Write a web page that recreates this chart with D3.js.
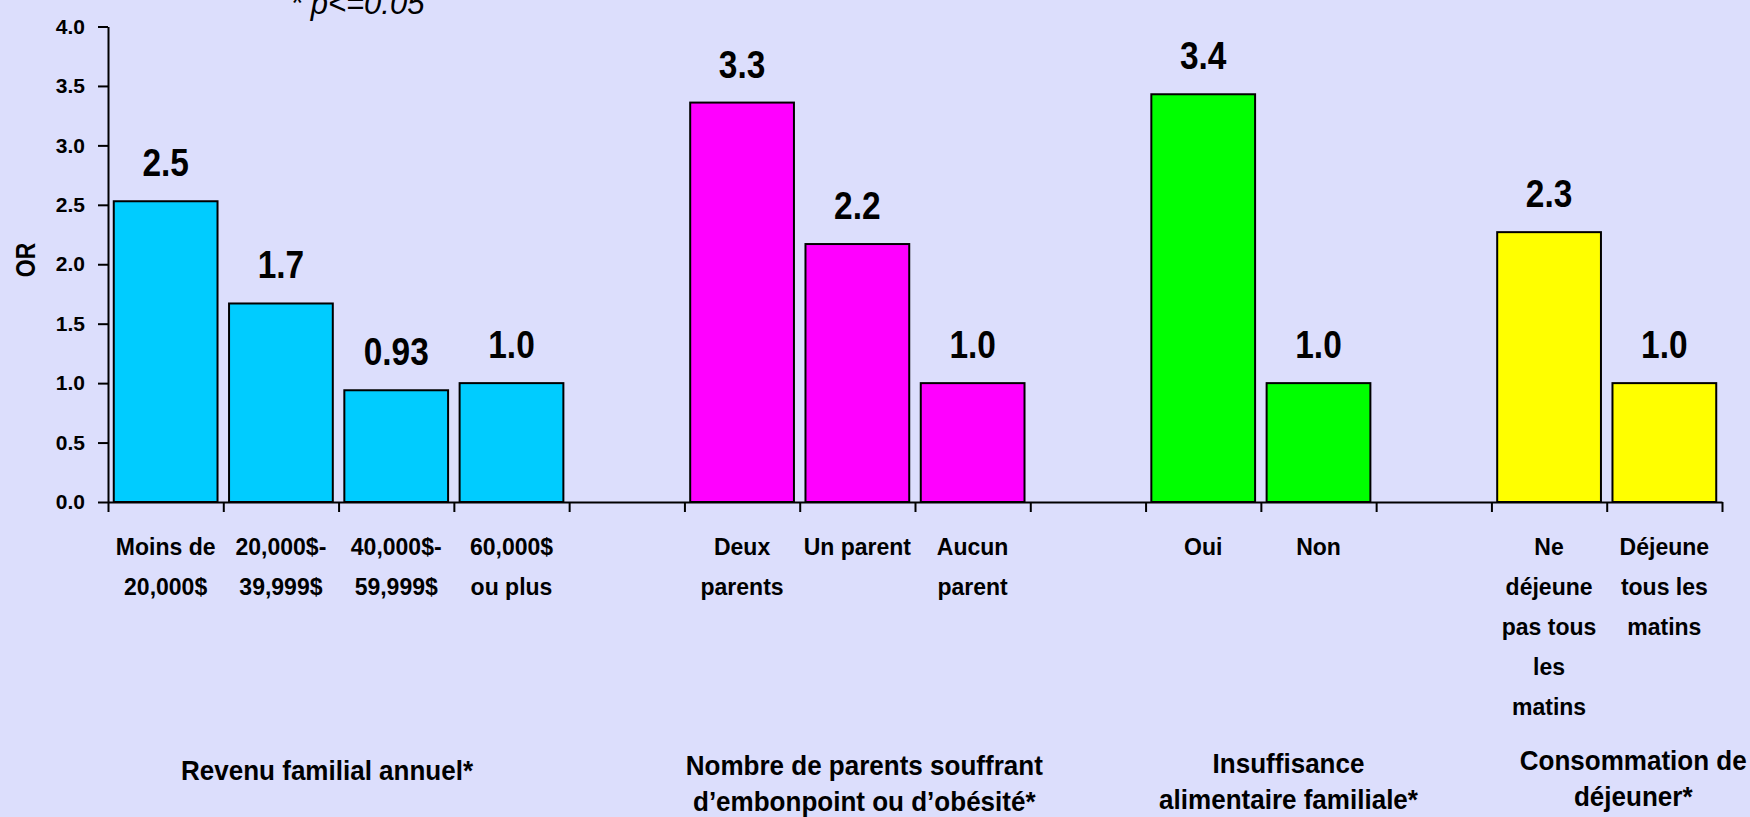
<!DOCTYPE html>
<html>
<head>
<meta charset="utf-8">
<script src="https://cdn.jsdelivr.net/npm/d3@7"></script>
<style>
    body { margin: 0; background: #dcdefc; }
    svg { display: block; }
</style>
</head>
<body>
<div id="chart-container"></div>
<script>
// Categories (each label split in lines), grouped by factor
var revenuCats = [["Moins de", "20,000$"], ["20,000$-", "39,999$"], ["40,000$-", "59,999$"], ["60,000$", "ou plus"]];
var parentsCats = [["Deux", "parents"], ["Un parent"], ["Aucun", "parent"]];
var insuffCats = [["Oui"], ["Non"]];
var dejeunerCats = [["Ne", "déjeune", "pas tous", "les", "matins"], ["Déjeune", "tous les", "matins"]];

// Odds ratios (bar heights) and the printed labels
var revenuValues = [2.53, 1.67, 0.94, 1.0];
var parentsValues = [3.36, 2.17, 1.0];
var insuffValues = [3.43, 1.0];
var dejeunerValues = [2.27, 1.0];

var revenuLabels = ["2.5", "1.7", "0.93", "1.0"];
var parentsLabels = ["3.3", "2.2", "1.0"];
var insuffLabels = ["3.4", "1.0"];
var dejeunerLabels = ["2.3", "1.0"];

// Group titles under the axis
var groupTitles = [
    ["Revenu familial annuel*"],
    ["Nombre de parents souffrant", "d’embonpoint ou d’obésité*"],
    ["Insuffisance", "alimentaire familiale*"],
    ["Consommation de", "déjeuner*"]
];

var yTicks = [0, 0.5, 1, 1.5, 2, 2.5, 3, 3.5, 4];

// Layout: band index where each group starts, and title anchor (band units / px)
var groupStart = [0, 5, 9, 12];
var groupColors = ["#00ccff", "#ff00ff", "#00ff00", "#ffff00"];
var titlePos = [{x: 1.90, y: 780}, {x: 6.56, y: 775}, {x: 10.24, y: 773}, {x: 13.23, y: 770}];
var nBands = 14;

var W = 1750, H = 817;
var font = "'Liberation Sans', Arial, sans-serif";

var svg = d3.select("#chart-container")
    .append("svg")
    .attr("width", W)
    .attr("height", H);

svg.append("rect")
    .attr("width", W)
    .attr("height", H)
    .attr("fill", "#dcdefc");

// Scales: x in band units (ticks at band edges), y for OR
var x = d3.scaleLinear().domain([0, nBands]).range([108, 1722]);
var step = x(1) - x(0);
var y = d3.scaleLinear().domain([0, 4]).range([502, 26.5]);

// Flatten groups into one list of bars
var allCats = [revenuCats, parentsCats, insuffCats, dejeunerCats];
var allValues = [revenuValues, parentsValues, insuffValues, dejeunerValues];
var allLabels = [revenuLabels, parentsLabels, insuffLabels, dejeunerLabels];
var bars = [];
allValues.forEach(function(vals, g) {
    vals.forEach(function(v, i) {
        bars.push({
            idx: groupStart[g] + i,
            value: v,
            label: allLabels[g][i],
            cat: allCats[g][i],
            color: groupColors[g]
        });
    });
});

// Bars
svg.selectAll("rect.bar")
    .data(bars)
    .enter()
    .append("rect")
    .attr("class", "bar")
    .attr("x", function(d) { return x(d.idx) + step * 0.05; })
    .attr("y", function(d) { return y(d.value); })
    .attr("width", step * 0.9)
    .attr("height", function(d) { return y(0) - y(d.value); })
    .attr("fill", function(d) { return d.color; })
    .attr("stroke", "#000")
    .attr("stroke-width", 2);

// Value labels above bars (slightly condensed like the original)
svg.selectAll("text.val")
    .data(bars)
    .enter()
    .append("text")
    .attr("class", "val")
    .attr("transform", function(d) {
        return "translate(" + x(d.idx + 0.5) + "," + (y(d.value) - 25) + ") scale(0.88,1)";
    })
    .attr("text-anchor", "middle")
    .attr("font-family", font)
    .attr("font-weight", "bold")
    .attr("font-size", 38)
    .text(function(d) { return d.label; });

// Y axis
var yAxis = d3.axisLeft(y)
    .tickValues(yTicks)
    .tickFormat(d3.format(".1f"))
    .tickSize(10)
    .tickSizeOuter(0)
    .tickPadding(13);
var gy = svg.append("g")
    .attr("transform", "translate(" + x(0) + ",0)")
    .call(yAxis);
gy.selectAll("path, line").attr("stroke", "#000").attr("stroke-width", 2);
gy.selectAll("text")
    .attr("font-family", font)
    .attr("font-weight", "bold")
    .attr("font-size", 21)
    .attr("fill", "#000");

// X axis: ticks on band edges, no labels
var xAxis = d3.axisBottom(x)
    .tickValues(d3.range(nBands + 1))
    .tickFormat("")
    .tickSize(10)
    .tickSizeOuter(0);
var gx = svg.append("g")
    .attr("transform", "translate(0," + y(0) + ")")
    .call(xAxis);
gx.selectAll("path, line").attr("stroke", "#000").attr("stroke-width", 2);

// Category labels (multi-line)
var catText = svg.selectAll("text.cat")
    .data(bars)
    .enter()
    .append("text")
    .attr("class", "cat")
    .attr("text-anchor", "middle")
    .attr("font-family", font)
    .attr("font-weight", "bold")
    .attr("font-size", 23);
catText.selectAll("tspan")
    .data(function(d) { return d.cat.map(function(t) { return {t: t, cx: x(d.idx + 0.5)}; }); })
    .enter()
    .append("tspan")
    .attr("x", function(d) { return d.cx; })
    .attr("y", function(d, i) { return 555 + i * 40; })
    .text(function(d) { return d.t; });

// Group titles
var titleText = svg.selectAll("text.grp")
    .data(groupTitles)
    .enter()
    .append("text")
    .attr("class", "grp")
    .attr("transform", function(d, g) {
        return "translate(" + x(titlePos[g].x) + "," + titlePos[g].y + ") scale(0.93,1)";
    })
    .attr("text-anchor", "middle")
    .attr("font-family", font)
    .attr("font-weight", "bold")
    .attr("font-size", 28);
titleText.selectAll("tspan")
    .data(function(d) { return d; })
    .enter()
    .append("tspan")
    .attr("x", 0)
    .attr("y", function(d, i) { return i * 36; })
    .text(function(d) { return d; });

// Y axis title
svg.append("text")
    .attr("transform", "translate(35,260) rotate(-90) scale(0.85,1)")
    .attr("text-anchor", "middle")
    .attr("font-family", font)
    .attr("font-weight", "bold")
    .attr("font-size", 27)
    .text("OR");

// Significance note (clipped at the top, as in the original)
svg.append("text")
    .attr("x", 290)
    .attr("y", 13.5)
    .attr("font-family", font)
    .attr("font-style", "italic")
    .attr("font-size", 31)
    .text("* p<=0.05");
</script>
</body>
</html>
